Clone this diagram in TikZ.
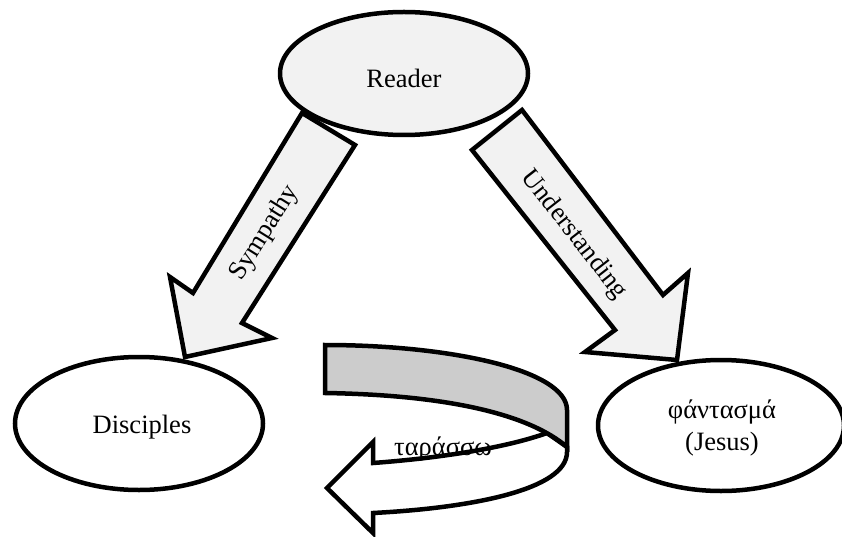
\documentclass[tikz,border=0pt]{standalone}
\usepackage{fontspec}
\setmainfont{Liberation Serif}
\usetikzlibrary{shapes.geometric}
\definecolor{lightfill}{HTML}{F2F2F2}
\definecolor{ribbonfill}{HTML}{CCCCCC}
\begin{document}
\begin{tikzpicture}[x=1pt,y=-1pt,
  outl/.style={draw=black,line width=4.5pt,line join=miter},
  oval/.style={outl,ellipse,inner sep=0pt},
  lbl/.style={font=\fontsize{26.5}{31}\selectfont,inner sep=0pt,text=black}]
\useasboundingbox (0,0) rectangle (842,537);
% block arrows
\draw[outl,fill=lightfill] (302,113) -- (355,145) -- (242,323) -- (272,338) -- (185,357) -- (170,277) -- (193,293) -- cycle;
\draw[outl,fill=lightfill] (472,150) -- (522,110) -- (663,295) -- (688,273) -- (677,360) -- (585,352) -- (615,330) -- cycle;
% ellipses
\node[oval,fill=lightfill,minimum width=248pt,minimum height=123pt] (reader) at (404,73.5) {};
\node[oval,fill=white,minimum width=248pt,minimum height=133pt] (disciples) at (139,423.5) {};
\node[oval,fill=white,minimum width=246pt,minimum height=131pt] (jesus) at (721,425.5) {};
% curved arrow: white front band
\draw[outl,fill=white] (373,463) .. controls (440,458) and (505,448) .. (547,433) -- (567,447) -- (567,452)
  .. controls (567,490) and (470,508) .. (373,513) -- (373,533) -- (327,488) -- (373,442) -- cycle;
% curved arrow: gray back ribbon
\draw[outl,fill=ribbonfill] (325,345) .. controls (450,345) and (567,370) .. (567,410) -- (567,447)
  .. controls (530,415) and (450,395) .. (325,393) -- cycle;
% labels
\node[lbl,anchor=base] (readertext) at (404,88) {Reader};
\node[lbl,anchor=base] (disciplestext) at (142,433) {Disciples};
\node[lbl,anchor=base] (jesustext) at (722,418) {φάντασμά};
\node[lbl,anchor=base] (jesussub) at (722,450) {(Jesus)};
\node[lbl,rotate=58] (sympathy) at (265,233) {Sympathy};
\node[lbl,rotate=-52] (understanding) at (574,235) {Understanding};
\node[lbl,anchor=base] (tarasso) at (443,455) {ταράσσω};
\end{tikzpicture}
\end{document}
